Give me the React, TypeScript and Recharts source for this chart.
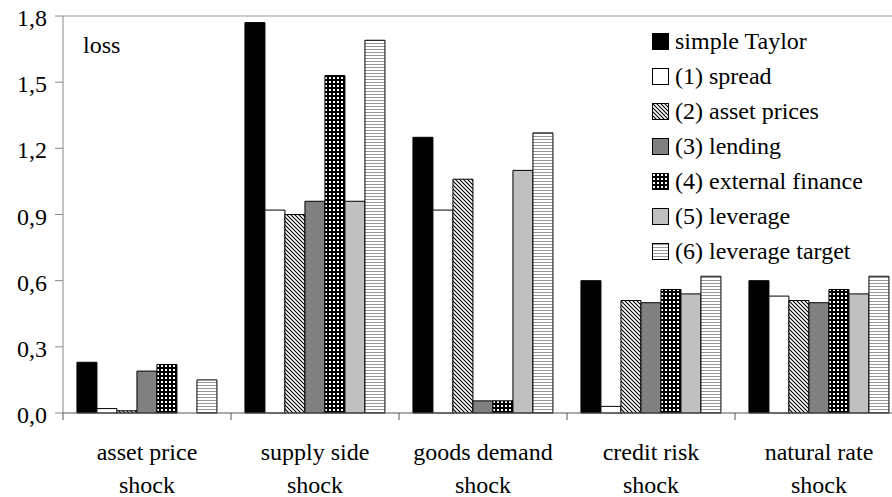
import React from "react";
import {
  BarChart,
  Bar,
  XAxis,
  YAxis,
  Legend,
  ReferenceLine,
} from "recharts";

const categories = [
  "asset price shock",
  "supply side shock",
  "goods demand shock",
  "credit risk shock",
  "natural rate shock",
];

const simpleTaylor = [0.23, 1.77, 1.25, 0.6, 0.6];
const spread = [0.02, 0.92, 0.92, 0.03, 0.53];
const assetPrices = [0.01, 0.9, 1.06, 0.51, 0.51];
const lending = [0.19, 0.96, 0.055, 0.5, 0.5];
const externalFinance = [0.22, 1.53, 0.055, 0.56, 0.56];
const leverage = [0, 0.96, 1.1, 0.54, 0.54];
const leverageTarget = [0.15, 1.69, 1.27, 0.62, 0.62];

const yTicks = [0, 0.3, 0.6, 0.9, 1.2, 1.5, 1.8];

const series = [
  { key: "taylor", name: "simple Taylor", values: simpleTaylor, fill: "#000000" },
  { key: "spread", name: "(1) spread", values: spread, fill: "#ffffff" },
  { key: "asset", name: "(2) asset prices", values: assetPrices, fill: "url(#diag)" },
  { key: "lending", name: "(3) lending", values: lending, fill: "#808080" },
  { key: "extfin", name: "(4) external finance", values: externalFinance, fill: "url(#dots)" },
  { key: "leverage", name: "(5) leverage", values: leverage, fill: "#c0c0c0" },
  { key: "levtarget", name: "(6) leverage target", values: leverageTarget, fill: "url(#hlines)" },
];

const data = categories.map((cat, i) => {
  const row: Record<string, string | number> = { cat };
  series.forEach((s) => {
    row[s.key] = s.values[i];
  });
  return row;
});

const FONT = "Liberation Serif, serif";

// category label on two lines, plus the tick marks at the category edges
const CategoryTick = (props: any) => {
  const { x, y, payload, index } = props;
  const half = payload?.offset ?? 84;
  const text: string = payload.value;
  const cut = text.lastIndexOf(" ");
  const lines = [text.slice(0, cut), text.slice(cut + 1)];
  return (
    <g>
      <line x1={x - half} y1={y} x2={x - half} y2={y + 7} stroke="#555" />
      {index === categories.length - 1 && (
        <line x1={x + half} y1={y} x2={x + half} y2={y + 7} stroke="#555" />
      )}
      <text
        x={x}
        y={y}
        textAnchor="middle"
        style={{ fontFamily: FONT, fontSize: 24 }}
        fill="#000"
      >
        <tspan x={x} dy={47}>
          {lines[0]}
        </tspan>
        <tspan x={x} dy={33}>
          {lines[1]}
        </tspan>
      </text>
    </g>
  );
};

const ValueTick = (props: any) => {
  const { x, y, payload } = props;
  return (
    <text
      x={x}
      y={y + 10}
      textAnchor="end"
      style={{ fontFamily: FONT, fontSize: 24 }}
      fill="#000"
    >
      {Number(payload.value).toFixed(1).replace(".", ",")}
    </text>
  );
};

const LegendContent = () => (
  <div style={{ fontFamily: FONT, fontSize: 24, color: "#000" }}>
    {series.map((s) => (
      <div
        key={s.key}
        style={{ display: "flex", alignItems: "center", height: 35, whiteSpace: "nowrap" }}
      >
        <svg width={18} height={18} style={{ marginRight: 5 }}>
          <rect x={0.5} y={0.5} width={16} height={16} fill={s.fill} stroke="#000" />
        </svg>
        <span>{s.name}</span>
      </div>
    ))}
  </div>
);

export default function App() {
  return (
    <div
      style={{
        position: "fixed",
        left: 0,
        top: 0,
        width: 892,
        height: 497,
        overflow: "hidden",
        background: "#fff",
        fontFamily: FONT,
      }}
    >
      <BarChart
        width={910}
        height={497}
        data={data}
        margin={{ top: 16, right: 7, left: 0, bottom: 0 }}
        barCategoryGap="8.3%"
        barGap={0}
        style={{ fontFamily: FONT }}
      >
        <defs>
          <pattern id="diag" patternUnits="userSpaceOnUse" width={4} height={4}>
            <rect width={4} height={4} fill="#fff" />
            <path d="M-1,-1 L5,5 M3,-1 L5,1 M-1,3 L1,5" stroke="#000" strokeWidth={1.1} />
          </pattern>
          <pattern id="dots" patternUnits="userSpaceOnUse" width={4} height={4}>
            <rect width={4} height={4} fill="#000" />
            <rect x={1} y={1} width={2} height={2} fill="#fff" />
          </pattern>
          <pattern id="hlines" patternUnits="userSpaceOnUse" width={4} height={3}>
            <rect width={4} height={3} fill="#fff" />
            <line x1={0} y1={1.5} x2={4} y2={1.5} stroke="#999" strokeWidth={1} />
          </pattern>
        </defs>
        <XAxis
          dataKey="cat"
          height={84}
          tickLine={false}
          tickSize={0}
          tickMargin={0}
          axisLine={{ stroke: "#555" }}
          tick={<CategoryTick />}
          interval={0}
        />
        <YAxis
          width={63}
          domain={[0, 1.8]}
          ticks={yTicks}
          interval={0}
          tickSize={8}
          tickMargin={8}
          axisLine={{ stroke: "#888" }}
          tickLine={{ stroke: "#888" }}
          tick={<ValueTick />}
        />
        <ReferenceLine
          y={1.8}
          stroke="#999"
          label={{
            value: "loss",
            position: "insideTopLeft",
            offset: 20,
            fill: "#000",
            fontSize: 24,
            fontFamily: FONT,
          }}
        />
        <Legend
          layout="vertical"
          align="center"
          verticalAlign="middle"
          content={<LegendContent />}
          wrapperStyle={{ top: 24, left: 652, width: 240 }}
        />
        {series.map((s) => (
          <Bar
            key={s.key}
            dataKey={s.key}
            name={s.name}
            fill={s.fill}
            stroke="#000"
            strokeWidth={1}
            isAnimationActive={false}
          />
        ))}
      </BarChart>
    </div>
  );
}
